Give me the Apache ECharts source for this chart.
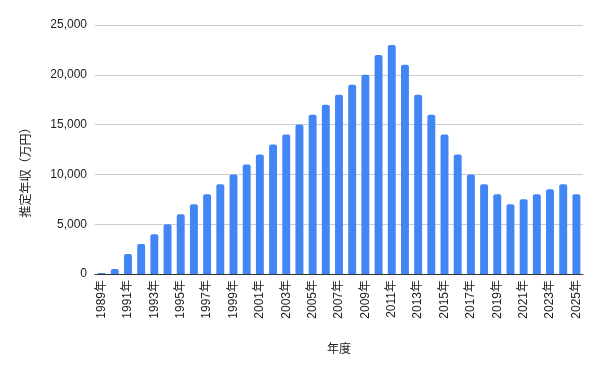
<!DOCTYPE html>
<html><head><meta charset="utf-8">
<script src="https://cdn.jsdelivr.net/npm/echarts@6/dist/echarts.min.js"></script>
<style>html,body{margin:0;padding:0;background:#fff}#c{width:601px;height:371px}</style>
</head><body><div id="c"></div>
<script>
const years = ['1989年','1990年','1991年','1992年','1993年','1994年','1995年','1996年','1997年','1998年','1999年','2000年','2001年','2002年','2003年','2004年','2005年','2006年','2007年','2008年','2009年','2010年','2011年','2012年','2013年','2014年','2015年','2016年','2017年','2018年','2019年','2020年','2021年','2022年','2023年','2024年','2025年'];
const income = [100,500,2000,3000,4000,5000,6000,7000,8000,9000,10000,11000,12000,13000,14000,15000,16000,17000,18000,19000,20000,22000,23000,21000,18000,16000,14000,12000,10000,9000,8000,7000,7500,8000,8500,9000,8000];
const yTicks = {min:0, max:25000, interval:5000};
const font = '"Liberation Sans", Arial, "Noto Sans CJK JP", sans-serif';
const chart = echarts.init(document.getElementById('c'));
chart.setOption({
  animation:false,
  grid:{left:95,right:18,top:25,bottom:97,containLabel:false},
  xAxis:{type:'category',data:years,name:'年度',nameLocation:'middle',nameGap:70,
    nameTextStyle:{color:'#222',fontSize:12,fontFamily:font},
    axisLine:{lineStyle:{color:'#333',width:1}},axisTick:{show:false},
    axisLabel:{rotate:90,interval:1,color:'#222',fontSize:12,fontFamily:font,margin:6}},
  yAxis:{type:'value',min:yTicks.min,max:yTicks.max,interval:yTicks.interval,
    name:'推定年収（万円）',nameLocation:'middle',nameGap:62,nameRotate:90,
    nameTextStyle:{color:'#222',fontSize:12,fontFamily:font,padding:[0,0,0,-40]},
    axisLine:{show:false},axisTick:{show:false},
    splitLine:{lineStyle:{color:'#ccc'}},
    axisLabel:{color:'#222',fontSize:12,fontFamily:font,margin:8,
      formatter:v=>v.toLocaleString('en-US')}},
  series:[{type:'bar',data:income,barCategoryGap:'40%',
    itemStyle:{color:'#4285f4',borderRadius:[2,2,0,0]}}]
});
</script></body></html>
